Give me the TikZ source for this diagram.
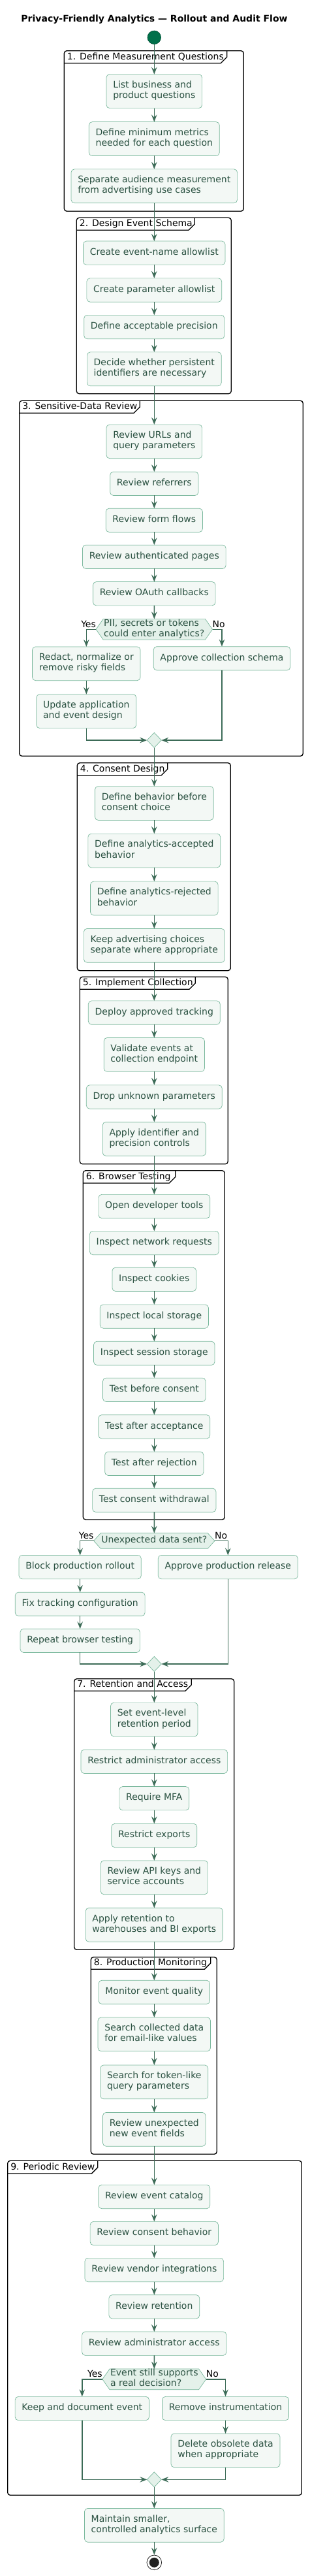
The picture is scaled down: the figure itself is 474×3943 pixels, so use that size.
\documentclass[tikz,border=0pt]{standalone}
\usepackage{fontspec}
\setmainfont{DejaVu Sans}
\usetikzlibrary{arrows.meta,shapes.geometric,shapes.symbols}
\definecolor{flowc}{HTML}{3C6B57}
\definecolor{boxc}{HTML}{7AB89D}
\definecolor{boxf}{HTML}{F3F8F5}
\definecolor{decf}{HTML}{E4F1EA}
\definecolor{txtc}{HTML}{2B5242}
\definecolor{startc}{HTML}{00704A}
\definecolor{stopc}{HTML}{222222}
\newcommand{\flowfont}{\fontsize{14pt}{16.3pt}\selectfont}
\tikzset{act/.style={draw=boxc, fill=boxf, text=txtc, line width=0.7pt, rounded corners=5pt,
		align=left, inner xsep=10.3pt, inner ysep=10pt, outer sep=0pt, font=\flowfont,
		execute at begin node=\strut, execute at end node=\strut},
	dec/.style={signal, signal to=west and east, signal pointer angle=110, draw=boxc, fill=decf,
		text=txtc, line width=0.7pt, align=left, inner xsep=1pt, inner ysep=0pt,
		minimum height=23.6pt, outer sep=0pt, font=\flowfont,
		execute at begin node=\strut, execute at end node=\strut},
	merge/.style={diamond, draw=boxc, fill=decf, line width=0.7pt, minimum width=22pt,
		minimum height=23pt, inner sep=0pt, outer sep=0pt},
	flow/.style={draw=flowc, line width=1.5pt, -{Stealth[length=11pt,width=8.5pt,inset=4pt]}},
	frame/.style={draw=black, line width=1.3pt, rounded corners=4pt},
	tabline/.style={draw=black, line width=1.3pt},
	tab/.style={anchor=base west, inner sep=0pt, font=\flowfont},
	lbl/.style={inner sep=0pt, font=\flowfont}}

\begin{document}
\begin{tikzpicture}[x=1pt,y=-1pt]
	\useasboundingbox (0,0) rectangle (474,3943);
	\node[anchor=base, inner sep=0pt, font=\flowfont\bfseries] (title) at (236.5,33.3) {Privacy-Friendly Analytics — Rollout and Audit Flow};
	
	% frames
	\draw[frame] (98.3,77.7) rectangle (373.3,323.3);
	\draw[tabline] (98.3,96.7) -- (338.3,96.7) -- (347.7,87.3) -- (347.7,77.7);
	\node[tab] (l1) at (102.7,91) {1. Define Measurement Questions};
	\draw[frame] (117.3,333.3) rectangle (354.3,602.7);
	\draw[tabline] (117.3,352.3) -- (288.9,352.3) -- (298.3,342.9) -- (298.3,333.3);
	\node[tab] (l2) at (121.7,346.6) {2. Design Event Schema};
	\draw[frame] (29.7,613.3) rectangle (464.3,1157.3);
	\draw[tabline] (29.7,632.3) -- (204.9,632.3) -- (214.3,622.9) -- (214.3,613.3);
	\node[tab] (l3) at (34.1,626.6) {3. Sensitive-Data Review};
	\draw[frame] (118.3,1167.7) rectangle (353.3,1485.7);
	\draw[tabline] (118.3,1186.7) -- (247.3,1186.7) -- (256.7,1177.3) -- (256.7,1167.7);
	\node[tab] (l4) at (122.7,1181) {4. Consent Design};
	\draw[frame] (122.3,1495.3) rectangle (349.3,1781.7);
	\draw[tabline] (122.3,1514.3) -- (289.9,1514.3) -- (299.3,1504.9) -- (299.3,1495.3);
	\node[tab] (l5) at (126.7,1508.6) {5. Implement Collection};
	\draw[frame] (127.3,1791.7) rectangle (344.3,2326);
	\draw[tabline] (127.3,1811) -- (259.3,1811) -- (268.7,1801.6) -- (268.7,1791.7);
	\node[tab] (l6) at (131.7,1805.3) {6. Browser Testing};
	\draw[frame] (113.7,2569.7) rectangle (358.7,2984.3);
	\draw[tabline] (113.7,2588.3) -- (283.9,2588.3) -- (293.3,2578.9) -- (293.3,2569.7);
	\node[tab] (l7) at (118.1,2582.6) {7. Retention and Access};
	\draw[frame] (139.3,2995.7) rectangle (332.3,3297.3);
	\draw[tabline] (139.3,3014.3) -- (313.3,3014.3) -- (322.7,3004.9) -- (322.7,2995.7);
	\node[tab] (l8) at (143.7,3008.6) {8. Production Monitoring};
	\draw[frame] (11.7,3307.3) rectangle (462.3,3819.3);
	\draw[tabline] (11.7,3327) -- (140.3,3327) -- (149.7,3317.6) -- (149.7,3307.3);
	\node[tab] (l9) at (16.1,3321.3) {9. Periodic Review};
	
	\node[circle, fill=startc, draw=startc!70!black, line width=0.6pt, minimum size=20.6pt, inner sep=0pt] (start) at (236.3,57.3) {};
	
	\node[act] (q1) at (236.3,139.7) {List business and\\product questions};
	\node[act] (q2) at (236.3,212.5) {Define minimum metrics\\needed for each question};
	\node[act] (q3) at (236.3,284.8) {Separate audience measurement\\from advertising use cases};
	
	\node[act] (s1) at (236.3,387.2) {Create event-name allowlist};
	\node[act] (s2) at (236.3,444) {Create parameter allowlist};
	\node[act] (s3) at (236.3,500.5) {Define acceptable precision};
	\node[act] (s4) at (236.3,564.8) {Decide whether persistent\\identifiers are necessary};
	
	\node[act] (r1) at (236.3,675.8) {Review URLs and\\query parameters};
	\node[act] (r2) at (236.3,740.3) {Review referrers};
	\node[act] (r3) at (236.3,796.3) {Review form flows};
	\node[act] (r4) at (236.3,852.3) {Review authenticated pages};
	\node[act] (r5) at (236.3,908.7) {Review OAuth callbacks};
	\node[dec] (rd) at (236.3,963.3) {PII, secrets or tokens\\could enter analytics?};
	\node[act] (r6) at (132.3,1015.8) {Redact, normalize or\\remove risky fields};
	\node[act] (r7) at (132.3,1088.7) {Update application\\and event design};
	\node[act] (r8) at (340,1007.8) {Approve collection schema};
	\node[merge] (rm) at (236.3,1133) {};
	
	\node[act] (c1) at (236.3,1229.5) {Define behavior before\\consent choice};
	\node[act] (c2) at (236.3,1302) {Define analytics-accepted\\behavior};
	\node[act] (c3) at (236.3,1375) {Define analytics-rejected\\behavior};
	\node[act] (c4) at (236.3,1447.3) {Keep advertising choices\\separate where appropriate};
	
	\node[act] (i1) at (236.3,1550) {Deploy approved tracking};
	\node[act] (i2) at (236.3,1614.3) {Validate events at\\collection endpoint};
	\node[act] (i3) at (236.3,1679) {Drop unknown parameters};
	\node[act] (i4) at (236.3,1743.3) {Apply identifier and\\precision controls};
	
	\node[act] (t1) at (236.3,1846.5) {Open developer tools};
	\node[act] (t2) at (236.3,1902.5) {Inspect network requests};
	\node[act] (t3) at (236.3,1958.3) {Inspect cookies};
	\node[act] (t4) at (236.3,2015) {Inspect local storage};
	\node[act] (t5) at (236.3,2071.3) {Inspect session storage};
	\node[act] (t6) at (236.3,2127.3) {Test before consent};
	\node[act] (t7) at (236.3,2183.8) {Test after acceptance};
	\node[act] (t8) at (236.3,2240.3) {Test after rejection};
	\node[act] (t9) at (236.3,2296.3) {Test consent withdrawal};
	\node[dec, signal pointer angle=96] (td) at (236.3,2358.5) {Unexpected data sent?};
	\node[act] (t10) at (122.7,2398.7) {Block production rollout};
	\node[act] (t11) at (122.7,2455.3) {Fix tracking configuration};
	\node[act] (t12) at (122.7,2511.3) {Repeat browser testing};
	\node[act] (t13) at (349.3,2398.7) {Approve production release};
	\node[merge] (tm) at (236.3,2547) {};
	
	\node[act] (a1) at (236.3,2632) {Set event-level\\retention period};
	\node[act] (a2) at (236.3,2696.3) {Restrict administrator access};
	\node[act] (a3) at (236.3,2752.7) {Require MFA};
	\node[act] (a4) at (236.3,2809.5) {Restrict exports};
	\node[act] (a5) at (236.3,2873.8) {Review API keys and\\service accounts};
	\node[act] (a6) at (236.3,2946.3) {Apply retention to\\warehouses and BI exports};
	
	\node[act] (m1) at (236.3,3049.3) {Monitor event quality};
	\node[act] (m2) at (236.3,3113.8) {Search collected data\\for email-like values};
	\node[act] (m3) at (236.3,3186.8) {Search for token-like\\query parameters};
	\node[act] (m4) at (236.3,3259.3) {Review unexpected\\new event fields};
	
	\node[act] (p1) at (236.3,3362.5) {Review event catalog};
	\node[act] (p2) at (236.3,3418.5) {Review consent behavior};
	\node[act] (p3) at (236.3,3474.5) {Review vendor integrations};
	\node[act] (p4) at (236.3,3530.8) {Review retention};
	\node[act] (p5) at (236.3,3587.2) {Review administrator access};
	\node[dec] (pd) at (236.3,3641.8) {Event still supports\\a real decision?};
	\node[act] (p6) at (125.8,3686.5) {Keep and document event};
	\node[act] (p7) at (345.5,3686.5) {Remove instrumentation};
	\node[act] (p8) at (345.5,3750.8) {Delete obsolete data\\when appropriate};
	\node[merge] (pm) at (236.3,3795.3) {};
	
	\node[act] (fin) at (236.3,3865.3) {Maintain smaller,\\controlled analytics surface};
	\node[circle, draw=stopc, fill=white, line width=0.8pt, minimum size=22.6pt, inner sep=0pt] (stop) at (236.3,3922.3) {};
	\node[circle, fill=stopc, minimum size=15pt, inner sep=0pt] (stopdot) at (stop) {};
	
	\node[lbl, anchor=base east] (ry) at ([yshift=3pt]rd.west) {Yes};
	\node[lbl, anchor=base west] (rn) at ([yshift=3pt]rd.east) {No};
	\node[lbl, anchor=base east] (ty) at ([yshift=3pt]td.west) {Yes};
	\node[lbl, anchor=base west] (tn) at ([yshift=3pt]td.east) {No};
	\node[lbl, anchor=base east] (py) at ([yshift=3pt]pd.west) {Yes};
	\node[lbl, anchor=base west] (pn) at ([yshift=3pt]pd.east) {No};
	
	\draw[flow] (start) -- (q1);
	\draw[flow] (q1) -- (q2);
	\draw[flow] (q2) -- (q3);
	\draw[flow] (q3) -- (s1);
	\draw[flow] (s1) -- (s2);
	\draw[flow] (s2) -- (s3);
	\draw[flow] (s3) -- (s4);
	\draw[flow] (s4) -- (r1);
	\draw[flow] (r1) -- (r2);
	\draw[flow] (r2) -- (r3);
	\draw[flow] (r3) -- (r4);
	\draw[flow] (r4) -- (r5);
	\draw[flow] (r5) -- (rd);
	\draw[flow] (rd.west) -| (r6);
	\draw[flow] (r6) -- (r7);
	\draw[flow] (rd.east) -| (r8);
	\draw[flow] (r7) |- (rm);
	\draw[flow] (r8) |- (rm);
	\draw[flow] (rm) -- (c1);
	\draw[flow] (c1) -- (c2);
	\draw[flow] (c2) -- (c3);
	\draw[flow] (c3) -- (c4);
	\draw[flow] (c4) -- (i1);
	\draw[flow] (i1) -- (i2);
	\draw[flow] (i2) -- (i3);
	\draw[flow] (i3) -- (i4);
	\draw[flow] (i4) -- (t1);
	\draw[flow] (t1) -- (t2);
	\draw[flow] (t2) -- (t3);
	\draw[flow] (t3) -- (t4);
	\draw[flow] (t4) -- (t5);
	\draw[flow] (t5) -- (t6);
	\draw[flow] (t6) -- (t7);
	\draw[flow] (t7) -- (t8);
	\draw[flow] (t8) -- (t9);
	\draw[flow] (t9) -- (td);
	\draw[flow] (td.west) -| (t10);
	\draw[flow] (t10) -- (t11);
	\draw[flow] (t11) -- (t12);
	\draw[flow] (td.east) -| (t13);
	\draw[flow] (t12) |- (tm);
	\draw[flow] (t13) |- (tm);
	\draw[flow] (tm) -- (a1);
	\draw[flow] (a1) -- (a2);
	\draw[flow] (a2) -- (a3);
	\draw[flow] (a3) -- (a4);
	\draw[flow] (a4) -- (a5);
	\draw[flow] (a5) -- (a6);
	\draw[flow] (a6) -- (m1);
	\draw[flow] (m1) -- (m2);
	\draw[flow] (m2) -- (m3);
	\draw[flow] (m3) -- (m4);
	\draw[flow] (m4) -- (p1);
	\draw[flow] (p1) -- (p2);
	\draw[flow] (p2) -- (p3);
	\draw[flow] (p3) -- (p4);
	\draw[flow] (p4) -- (p5);
	\draw[flow] (p5) -- (pd);
	\draw[flow] (pd.west) -| (p6);
	\draw[flow] (pd.east) -| (p7);
	\draw[flow] (p7) -- (p8);
	\draw[flow] (p6) |- (pm);
	\draw[flow] (p8) |- (pm);
	\draw[flow] (pm) -- (fin);
	\draw[flow] (fin) -- (stop);
\end{tikzpicture}
\end{document}
